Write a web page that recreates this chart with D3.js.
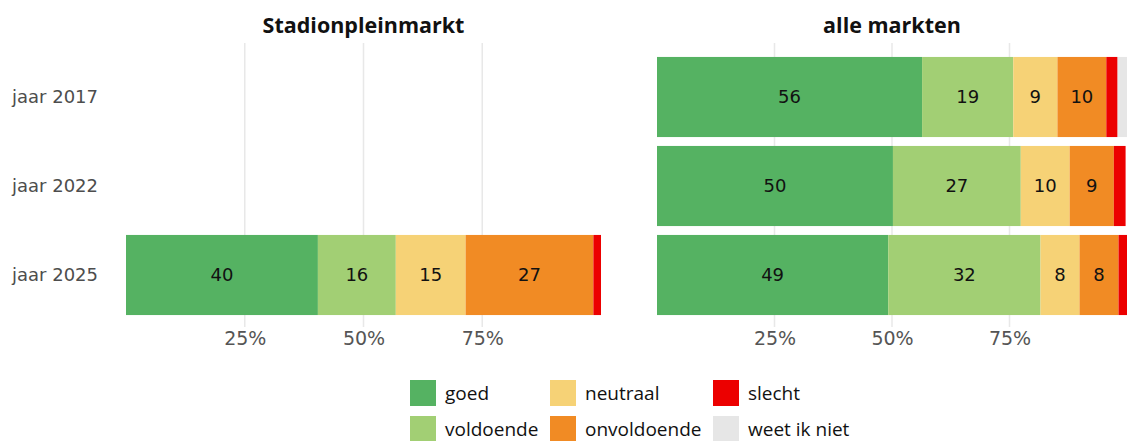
<!DOCTYPE html>
<html>
<head>
<meta charset="utf-8">
<script src="https://cdn.jsdelivr.net/npm/d3@7"></script>
<style>
  body { margin: 0; background: #fff; }
  svg { display: block; }
</style>
</head>
<body>
<div id="chart"></div>
<script>
// categories and series
const years = ["jaar 2017", "jaar 2022", "jaar 2025"];
const panels = ["Stadionpleinmarkt", "alle markten"];
const answers = ["goed", "voldoende", "neutraal", "onvoldoende", "slecht", "weet ik niet"];
const colors = ["#55b262", "#a2cf74", "#f6d276", "#f18b24", "#ec0000", "#e6e6e6"];
const tickValues = [0.25, 0.5, 0.75];

// percentages per answer, one list per year (null = no data)
const stadion2017 = null;
const stadion2022 = null;
const stadion2025 = [40.4, 16.4, 14.7, 26.9, 1.6, 0];
const alle2017 = [56.4, 19.4, 9.4, 10.4, 2.4, 2.0];
const alle2022 = [50.2, 27.2, 10.4, 9.4, 2.5, 0];
const alle2025 = [49.2, 32.4, 8.3, 8.3, 1.8, 0];

const panelData = [
    [stadion2017, stadion2022, stadion2025],
    [alle2017, alle2022, alle2025],
];

const config = {
    width: 1127,
    height: 441,
    panelRanges: [[126, 601], [657, 1127]],
    top: 52.5,
    bottom: 319.5,
    gridTop: 43,
    gridBottom: 327,
    labelMin: 5,
};

const svg = d3.select("#chart").append("svg")
    .attr("width", config.width)
    .attr("height", config.height)
    .attr("viewBox", [0, 0, config.width, config.height]);

const y = d3.scaleBand()
    .domain(years)
    .range([config.top, config.bottom])
    .paddingInner(0.1)
    .paddingOuter(0.05);

const color = d3.scaleOrdinal(answers, colors);

// y labels
svg.append("g")
    .selectAll("text")
    .data(years)
    .join("text")
    .attr("x", 12)
    .attr("y", d => y(d) + y.bandwidth() / 2)
    .attr("dy", "0.35em")
    .attr("fill", "#4d4d4d")
    .style("font", "18px 'DejaVu Sans', sans-serif")
    .text(d => d);

panels.forEach((name, pi) => {
    const x = d3.scaleLinear().domain([0, 1]).range(config.panelRanges[pi]);
    const g = svg.append("g");

    // grid
    g.append("g")
        .selectAll("line")
        .data(tickValues)
        .join("line")
        .attr("x1", d => x(d))
        .attr("x2", d => x(d))
        .attr("y1", config.gridTop)
        .attr("y2", config.gridBottom)
        .attr("stroke", "#e8e8e8")
        .attr("stroke-width", 1.5);

    // title
    g.append("text")
        .attr("x", (x.range()[0] + x.range()[1]) / 2)
        .attr("y", 33)
        .attr("text-anchor", "middle")
        .attr("fill", "#111")
        .style("font", "bold 21.5px 'Open Sans', sans-serif")
        .text(name);

    // x axis
    g.append("g")
        .attr("transform", `translate(0,${config.gridBottom})`)
        .call(d3.axisBottom(x).tickValues(tickValues).tickFormat(d3.format(".0%")).tickSize(0).tickPadding(5))
        .call(g => g.select(".domain").remove())
        .call(g => g.selectAll("text")
            .attr("fill", "#555")
            .style("font", "19px 'DejaVu Sans', sans-serif"));

    // stacked bars
    panelData[pi].forEach((vals, yi) => {
        if (!vals) return;
        let acc = 0;
        const segs = vals.map((v, i) => {
            const s = { key: answers[i], value: v, x0: acc / 100, x1: (acc + v) / 100 };
            acc += v;
            return s;
        }).filter(s => s.value > 0);

        const row = g.append("g");
        row.selectAll("rect")
            .data(segs)
            .join("rect")
            .attr("x", d => x(d.x0))
            .attr("width", d => x(d.x1) - x(d.x0))
            .attr("y", y(years[yi]))
            .attr("height", y.bandwidth())
            .attr("fill", d => color(d.key));

        row.selectAll("text")
            .data(segs.filter(d => d.value >= config.labelMin))
            .join("text")
            .attr("x", d => (x(d.x0) + x(d.x1)) / 2)
            .attr("y", y(years[yi]) + y.bandwidth() / 2)
            .attr("dy", "0.35em")
            .attr("text-anchor", "middle")
            .attr("fill", "#111")
            .style("font", "18px 'DejaVu Sans', sans-serif")
            .text(d => Math.round(d.value));
    });
});

// legend, column-major in 2 rows
const legendCols = [410, 550, 713];
const legendRows = [380, 416];
const legend = svg.append("g")
    .selectAll("g")
    .data(answers)
    .join("g")
    .attr("transform", (d, i) => `translate(${legendCols[Math.floor(i / 2)]},${legendRows[i % 2]})`);

legend.append("rect")
    .attr("width", 26)
    .attr("height", 26)
    .attr("fill", d => color(d));

legend.append("text")
    .attr("x", 35)
    .attr("y", 13)
    .attr("dy", "0.35em")
    .attr("fill", "#111")
    .style("font", "19px 'Open Sans', sans-serif")
    .text(d => d);
</script>
</body>
</html>
